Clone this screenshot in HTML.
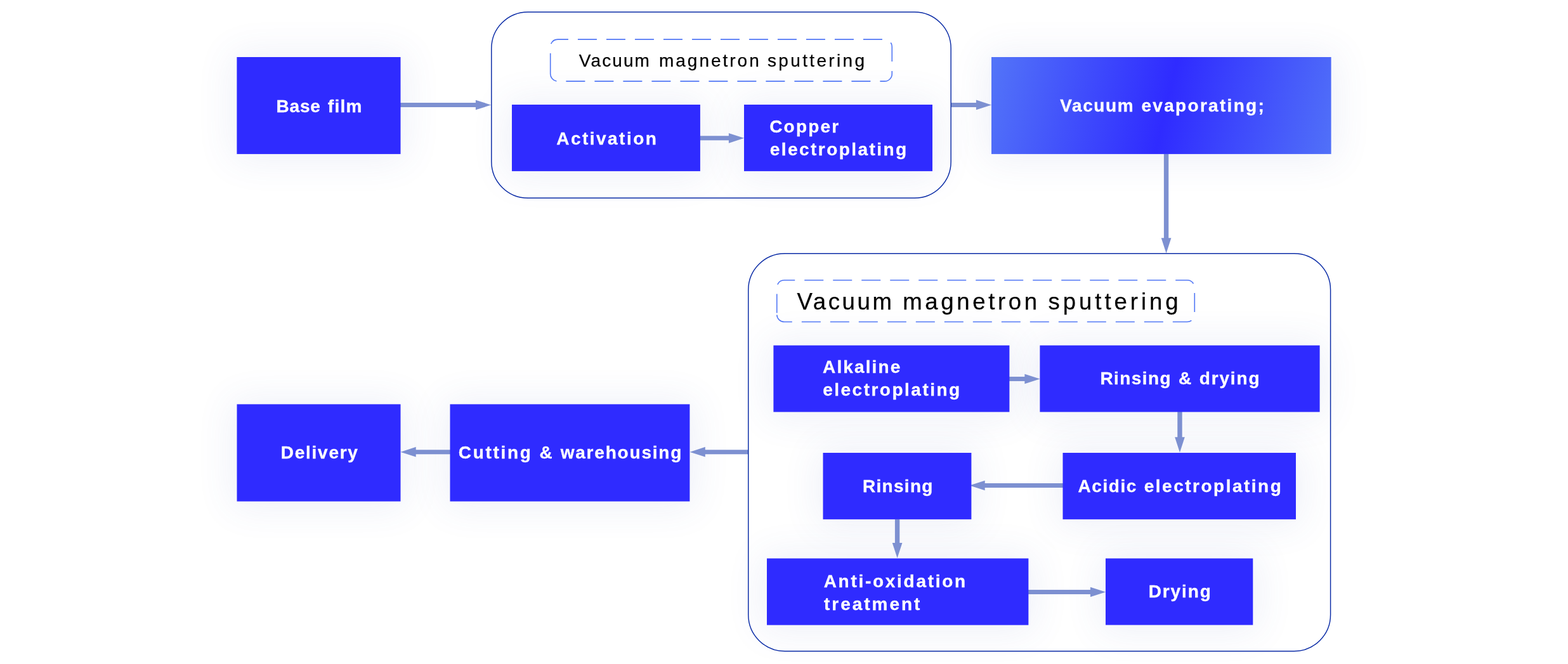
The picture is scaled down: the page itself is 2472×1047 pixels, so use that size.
<!DOCTYPE html>
<html lang="en">
<head>
<meta charset="utf-8">
<title>Production process flow</title>
<style>
html,body{margin:0;padding:0;background:#fff;}
body{width:2472px;height:1047px;position:relative;overflow:hidden;font-family:"Liberation Sans",sans-serif;}
.sh{position:absolute;background:#2f2bff;box-shadow:0 2px 60px 8px rgba(66,86,180,0.09);}
svg{position:absolute;left:0;top:0;width:2472px;height:1047px;overflow:visible;will-change:transform;}
text{font-family:"Liberation Sans",sans-serif;white-space:pre;}
.b{font-weight:bold;fill:#fff;stroke:#fff;stroke-width:0.3px;}
.n{font-weight:normal;fill:#000;stroke:#000;stroke-width:0.25px;}
</style>
</head>
<body>
<!-- soft shadows behind every step -->
<div class="sh" style="left:374px;top:90px;width:257px;height:152px"></div>
<div class="sh" style="left:807px;top:165px;width:296px;height:104px"></div>
<div class="sh" style="left:1173px;top:165px;width:297px;height:104px"></div>
<div class="sh" style="left:1563px;top:90px;width:535px;height:152px"></div>
<div class="sh" style="left:1220px;top:545px;width:371px;height:104px"></div>
<div class="sh" style="left:1640px;top:545px;width:440px;height:104px"></div>
<div class="sh" style="left:1298px;top:714px;width:233px;height:104px"></div>
<div class="sh" style="left:1676px;top:714px;width:367px;height:104px"></div>
<div class="sh" style="left:1209px;top:881px;width:412px;height:104px"></div>
<div class="sh" style="left:1743px;top:881px;width:232px;height:104px"></div>
<div class="sh" style="left:374px;top:638px;width:257px;height:152px"></div>
<div class="sh" style="left:710px;top:638px;width:377px;height:152px"></div>
<svg xmlns="http://www.w3.org/2000/svg" viewBox="0 0 2472 1047" width="2472" height="1047">
<defs><linearGradient id="vg" gradientUnits="userSpaceOnUse" x1="1566.2" y1="103.45" x2="2111.8" y2="229.45"><stop offset="0" stop-color="#5273f8"/><stop offset="0.5" stop-color="#2f2bff"/><stop offset="1" stop-color="#5273f8"/></linearGradient></defs>
<g fill="#7d90d1">
<path d="M631 162H749.9V157.65L774.1 165.5L749.9 173.35V169H631Z"/>
<path d="M1103.5 214.35H1148.9V210L1173.1 217.85L1148.9 225.7V221.35H1103.5Z"/>
<path d="M1499.3 161.9H1538.9V157.55L1563.1 165.4L1538.9 173.25V168.9H1499.3Z"/>
<path d="M1834.9 242.5V375.2H1830.75L1838.6 399.4L1846.45 375.2H1842.3V242.5Z"/>
<path d="M1591 594H1615.4V589.65L1639.6 597.5L1615.4 605.35V601H1591Z"/>
<path d="M1856.3 649V689.3H1852.15L1860 713.5L1867.85 689.3H1863.7V649Z"/>
<path d="M1676 762H1552.7V757.65L1528.5 765.5L1552.7 773.35V769H1676Z"/>
<path d="M1410.9 818.5V855.9H1406.75L1414.6 880.1L1422.45 855.9H1418.3V818.5Z"/>
<path d="M1621 930H1719V925.65L1743.2 933.5L1719 941.35V937H1621Z"/>
<path d="M1180 709.2H1111.8V704.85L1087.6 712.7L1111.8 720.55V716.2H1180Z"/>
<path d="M710 709.2H655.7V704.85L631.5 712.7L655.7 720.55V716.2H710Z"/>
</g>
<g>
<rect x="373.4" y="90" width="258.1" height="152.9" fill="#2f2bff"/>
<rect x="807" y="165" width="296.9" height="104.9" fill="#2f2bff"/>
<rect x="1173" y="165" width="297" height="104.9" fill="#2f2bff"/>
<rect x="1563" y="90" width="535.6" height="152.9" fill="url(#vg)"/>
<rect x="1219.4" y="544.6" width="372" height="105" fill="#2f2bff"/>
<rect x="1639.4" y="544.6" width="441.2" height="105" fill="#2f2bff"/>
<rect x="1297.5" y="714" width="233.9" height="104.9" fill="#2f2bff"/>
<rect x="1675.5" y="714" width="367.5" height="104.9" fill="#2f2bff"/>
<rect x="1209" y="880.5" width="412.4" height="105.1" fill="#2f2bff"/>
<rect x="1743" y="880.5" width="232.3" height="105" fill="#2f2bff"/>
<rect x="373.5" y="637.4" width="258" height="153.2" fill="#2f2bff"/>
<rect x="709.5" y="637.4" width="377.9" height="153.2" fill="#2f2bff"/>
</g>
<g fill="none" stroke="#0a2ba6" stroke-width="1.45">
<rect x="774.8" y="18.9" width="724.4" height="293.4" rx="57.5" ry="57.5"/>
<rect x="1179.75" y="399.75" width="917.85" height="627" rx="57.5" ry="57.5"/>
</g>
<g fill="none" stroke="#5177f5" stroke-width="1.6" stroke-dasharray="30 15">
<path d="M867.7 114.05V73.85A11.7 11.7 0 0 1 879.4 62.15H1394.6A11.7 11.7 0 0 1 1406.3 73.85V116.45A11.7 11.7 0 0 1 1394.6 128.15H879.4A11.7 11.7 0 0 1 867.7 116.45Z"/>
<path d="M1224.75 493.45V453.5A11.7 11.7 0 0 1 1236.45 441.8H1871.6A11.7 11.7 0 0 1 1883.3 453.5V495.85A11.7 11.7 0 0 1 1871.6 507.55H1236.45A11.7 11.7 0 0 1 1224.75 495.85Z"/>
</g>
<g>
<text class="b" y="177" font-size="28"><tspan id="t_base_0" x="435.55" letter-spacing="0.810">Base</tspan> <tspan id="t_base_1" x="516.87" letter-spacing="1.224">film</tspan></text>
<text class="b" y="228" font-size="28"><tspan id="t_act_0" x="877.26" letter-spacing="2.468">Activation</tspan></text>
<text class="b" y="209" font-size="28"><tspan id="t_cop1_0" x="1213.16" letter-spacing="2.209">Copper</tspan></text>
<text class="b" y="245" font-size="28"><tspan id="t_cop2_0" x="1213.77" letter-spacing="2.451">electroplating</tspan></text>
<text class="b" y="176" font-size="28"><tspan id="t_vac_0" x="1671.25" letter-spacing="1.616">Vacuum</tspan> <tspan id="t_vac_1" x="1799.42" letter-spacing="2.311">evaporating;</tspan></text>
<text class="b" y="588" font-size="28"><tspan id="t_alk1_0" x="1297.04" letter-spacing="2.129">Alkaline</tspan></text>
<text class="b" y="624" font-size="28"><tspan id="t_alk2_0" x="1297.15" letter-spacing="2.500">electroplating</tspan></text>
<text class="b" y="606" font-size="28"><tspan id="t_rd_0" x="1734.42" letter-spacing="1.425">Rinsing</tspan> <tspan id="t_rd_1" x="1858.04" letter-spacing="0.000">&amp;</tspan> <tspan id="t_rd_2" x="1890.67" letter-spacing="1.871">drying</tspan></text>
<text class="b" y="776" font-size="28"><tspan id="t_rin_0" x="1359.93" letter-spacing="1.300">Rinsing</tspan></text>
<text class="b" y="776" font-size="28"><tspan id="t_aci_0" x="1699.54" letter-spacing="1.549">Acidic</tspan> <tspan id="t_aci_1" x="1803.77" letter-spacing="2.497">electroplating</tspan></text>
<text class="b" y="926" font-size="28"><tspan id="t_anti1_0" x="1298.67" letter-spacing="2.716">Anti-oxidation</tspan></text>
<text class="b" y="962" font-size="28"><tspan id="t_anti2_0" x="1299.03" letter-spacing="2.968">treatment</tspan></text>
<text class="b" y="942" font-size="28"><tspan id="t_dry_0" x="1810.64" letter-spacing="1.929">Drying</tspan></text>
<text class="b" y="723" font-size="28"><tspan id="t_del_0" x="442.78" letter-spacing="1.739">Delivery</tspan></text>
<text class="b" y="723" font-size="28"><tspan id="t_cut_0" x="722.78" letter-spacing="2.702">Cutting</tspan> <tspan id="t_cut_1" x="850.49" letter-spacing="0.000">&amp;</tspan> <tspan id="t_cut_2" x="883.64" letter-spacing="1.805">warehousing</tspan></text>
<text class="n" y="105" font-size="28"><tspan id="l_small_0" x="912.82" letter-spacing="2.084">Vacuum</tspan> <tspan id="l_small_1" x="1038.92" letter-spacing="3.000">magnetron</tspan> <tspan id="l_small_2" x="1209.92" letter-spacing="3.359">sputtering</tspan></text>
<text class="n" y="488" font-size="36.6"><tspan id="l_big_0" x="1256.38" letter-spacing="3.644">Vacuum</tspan> <tspan id="l_big_1" x="1423.24" letter-spacing="4.633">magnetron</tspan> <tspan id="l_big_2" x="1652.55" letter-spacing="4.946">sputtering</tspan></text>
</g>
</svg>
</body>
</html>
